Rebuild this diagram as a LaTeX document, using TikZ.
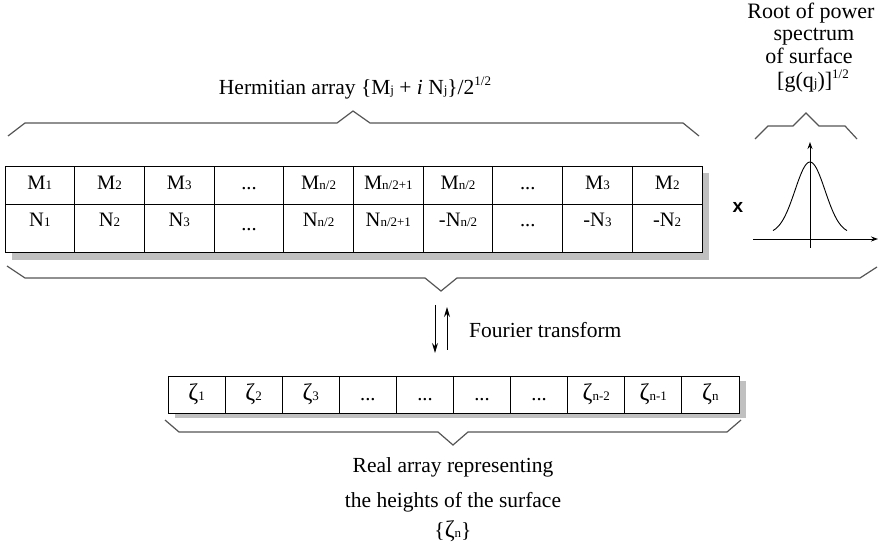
\documentclass[tikz,border=0pt]{standalone}
\usepackage{fontspec}
\setmainfont{Liberation Serif}
\newfontfamily\arialfont{Liberation Sans}
\usetikzlibrary{arrows.meta}

% small index set on the baseline, and a raised small exponent
\newcommand{\lo}[1]{{\fontsize{13}{13}\selectfont #1}}
\newcommand{\hi}[1]{\raisebox{0.42em}{\fontsize{13}{13}\selectfont #1}}
% height symbol, set a little larger than the cell text
\newcommand{\zet}{{\fontsize{24}{24}\selectfont ζ}}

\definecolor{shadowgray}{HTML}{C0C0C0}
\definecolor{bracegray}{HTML}{555555}

\tikzset{
  cell/.style={anchor=base, inner sep=0pt, font=\fontsize{20.5}{21}\selectfont},
  label/.style={anchor=base, inner sep=0pt, font=\fontsize{21.5}{22}\selectfont},
  rootlabel/.style={anchor=base, inner sep=0pt, font=\fontsize{22}{22}\selectfont},
  grid/.style={draw=black, line width=1pt},
  brace/.style={draw=bracegray, line width=1.2pt, line join=miter},
  axis/.style={draw=black, line width=0.9pt, -{Stealth[length=7pt,width=5pt]}},
  ftarrow/.style={draw=black, line width=1pt, -{Stealth[length=10pt,width=6pt]}}
}

\begin{document}
\begin{tikzpicture}[x=1pt,y=-1pt]
\useasboundingbox (0,0) rectangle (881,545);

% ---------- Hermitian array ----------
\fill[shadowgray] (12,173) rectangle (709,260);
\draw[grid, fill=white] (5,167) rectangle (702,253);
\draw[grid] (5,205) -- (702,205);
\foreach \k in {1,...,9}
  \draw[grid] ({5+69.7*\k},167) -- ({5+69.7*\k},253);

\node[cell] (m1)  at (39.85,190)  {M\lo{1}};
\node[cell] (m2)  at (109.55,190) {M\lo{2}};
\node[cell] (m3)  at (179.25,190) {M\lo{3}};
\node[cell] (m4)  at (248.95,190) {...};
\node[cell] (m5)  at (318.65,190) {M\lo{n/2}};
\node[cell] (m6)  at (388.35,190) {M\lo{n/2+1}};
\node[cell] (m7)  at (458.05,190) {M\lo{n/2}};
\node[cell] (m8)  at (527.75,190) {...};
\node[cell] (m9)  at (597.45,190) {M\lo{3}};
\node[cell] (m10) at (667.15,190) {M\lo{2}};

\node[cell] (n1)  at (39.85,227)  {N\lo{1}};
\node[cell] (n2)  at (109.55,227) {N\lo{2}};
\node[cell] (n3)  at (179.25,227) {N\lo{3}};
\node[cell] (n4)  at (248.95,231) {...};
\node[cell] (n5)  at (318.65,227) {N\lo{n/2}};
\node[cell] (n6)  at (388.35,227) {N\lo{n/2+1}};
\node[cell] (n7)  at (458.05,227) {-N\lo{n/2}};
\node[cell] (n8)  at (527.75,227) {...};
\node[cell] (n9)  at (597.45,227) {-N\lo{3}};
\node[cell] (n10) at (667.15,227) {-N\lo{2}};

% brace and caption above the array
\draw[brace] (8,136) -- (25,123) -- (337,123) -- (353,111) -- (370,123) -- (683,123) -- (699,136);
\node[label] (herm) at (355,95) {Hermitian array \{M\lo{j} + \textit{i} N\lo{j}\}/2\hi{1/2}};

% ---------- power spectrum ----------
\node[rootlabel] (root1) at (811,19) {Root of power};
\node[rootlabel] (root2) at (814,41) {spectrum};
\node[rootlabel] (root3) at (809,64) {of surface};
\node[rootlabel] (root4) at (813,88) {[g(q\lo{j})]\hi{1/2}};
\draw[brace] (755,139) -- (768,126) -- (793,126) -- (806,113) -- (819,126) -- (845,126) -- (857,139);

\node[inner sep=0pt, font=\arialfont\bfseries\fontsize{19}{19}\selectfont] (times) at (738,207) {x};

\draw[axis] (753,239) -- (878,239);
\draw[axis] (810,248) -- (810,142);
\draw[line width=0.9pt, smooth, domain=-37:37, samples=61]
  plot ({810+\x},{234-72*exp(-(\x*\x)/450)});

% brace spanning array and spectrum
\draw[brace] (7,266) -- (25,278) -- (425,278) -- (441,291) -- (457,278) -- (860,278) -- (877,267);

% ---------- Fourier transform ----------
\coordinate (fdtop) at (435,305);
\coordinate (fdbot) at (435,353);
\coordinate (futop) at (447,307);
\coordinate (fubot) at (447,350);
\draw[ftarrow] (fdtop) -- (fdbot);
\draw[ftarrow] (fubot) -- (futop);
\node[label, anchor=west] (ft) at (469,330) {Fourier transform};

% ---------- real array ----------
\fill[shadowgray] (175,381) rectangle (746,418);
\draw[grid, fill=white] (168,376) rectangle (739,413);
\foreach \k in {1,...,9}
  \draw[grid] ({168+57.1*\k},376) -- ({168+57.1*\k},413);

\node[cell] (z1)  at (196.55,400) {\zet\lo{1}};
\node[cell] (z2)  at (253.65,400) {\zet\lo{2}};
\node[cell] (z3)  at (310.75,400) {\zet\lo{3}};
\node[cell] (z4)  at (367.85,400) {...};
\node[cell] (z5)  at (424.95,400) {...};
\node[cell] (z6)  at (482.05,400) {...};
\node[cell] (z7)  at (539.15,400) {...};
\node[cell] (z8)  at (596.25,400) {\zet\lo{n-2}};
\node[cell] (z9)  at (653.35,400) {\zet\lo{n-1}};
\node[cell] (z10) at (710.45,400) {\zet\lo{n}};

\draw[brace] (165,420) -- (179,432) -- (438,432) -- (453,445) -- (468,432) -- (727,432) -- (741,420);

\node[label] (real1) at (453,472) {Real array representing};
\node[label] (real2) at (453,507) {the heights of the surface};
\node[label] (real3) at (453,537) {\{\zet\lo{n}\}};
\end{tikzpicture}
\end{document}
